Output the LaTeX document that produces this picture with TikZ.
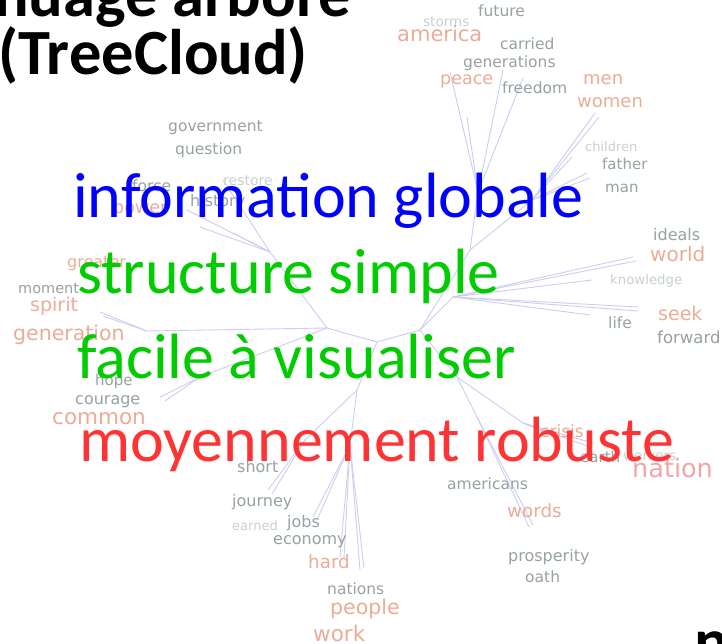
\documentclass[tikz,border=0pt]{standalone}
\usepackage{fontspec}
\setmainfont{Carlito}
\newfontfamily\cloudfont{DejaVu Sans}
\usetikzlibrary{positioning}
\definecolor{wgrey}{RGB}{152,162,162}
\definecolor{wlight}{RGB}{200,208,212}
\definecolor{wsalmon}{RGB}{235,172,152}
\definecolor{wpink}{RGB}{242,165,165}
\definecolor{branchcol}{RGB}{205,205,240}
\definecolor{pblue}{RGB}{0,0,255}
\definecolor{pgreen}{RGB}{0,204,0}
\definecolor{pred}{RGB}{255,51,51}

\begin{document}
\begin{tikzpicture}[x=1pt, y=-1pt,
  gw/.style={text=wgrey, inner sep=0pt, anchor=west, font=\cloudfont\fontsize{#1}{#1}\selectfont},
  gw/.default=15.5,
  lw/.style={text=wlight, inner sep=0pt, anchor=west, font=\cloudfont\fontsize{#1}{#1}\selectfont},
  lw/.default=13.5,
  sw/.style={text=wsalmon, inner sep=0pt, anchor=west, font=\cloudfont\fontsize{#1}{#1}\selectfont},
  sw/.default=19,
  bigline/.style={text=#1, inner sep=0pt, anchor=base west, font=\fontsize{64}{64}\selectfont},
  titletext/.style={inner sep=0pt, anchor=base west, font=\bfseries\fontsize{64.5}{64.5}\selectfont},
  branch/.style={draw=branchcol, line width=0.9pt}
]
  \useasboundingbox (0,0) rectangle (722,644);
  \fill[white] (0,0) rectangle (722,644);

  % inner points of the tree
  \coordinate (c1) at (327,328);
  \coordinate (c2) at (377,342);
  \coordinate (c3) at (420,330);
  \coordinate (c4) at (453,297);
  \coordinate (c5) at (470,250);
  \coordinate (c6) at (478,192);
  \coordinate (c7) at (532,200);
  \coordinate (c8) at (457,377);
  \coordinate (c9) at (523,423);
  \coordinate (c10) at (477,417);
  \coordinate (c11) at (357,390);
  \coordinate (c12) at (350,445);
  \coordinate (c13) at (305,440);
  \coordinate (c14) at (147,331);
  \coordinate (c15) at (200,377);
  \coordinate (c16) at (270,252);

  % leaf ends
  \coordinate (e1) at (450,72);   \coordinate (e2) at (467,117);
  \coordinate (e3) at (503,70);   \coordinate (e4) at (523,78);
  \coordinate (e5) at (595,113);  \coordinate (e6) at (599,117);
  \coordinate (e7) at (572,157);  \coordinate (e8) at (587,173);
  \coordinate (e9) at (590,178);
  \coordinate (e10) at (633,257); \coordinate (e11) at (636,261);
  \coordinate (e12) at (592,280); \coordinate (e13) at (638,307);
  \coordinate (e14) at (638,311); \coordinate (e15) at (590,315);
  \coordinate (e16) at (547,433); \coordinate (e17) at (593,443);
  \coordinate (e18) at (590,447);
  \coordinate (e19) at (529,527); \coordinate (e20) at (533,525);
  \coordinate (e21) at (340,557); \coordinate (e22) at (344,558);
  \coordinate (e23) at (360,570); \coordinate (e24) at (364,568);
  \coordinate (e25) at (313,517); \coordinate (e26) at (317,520);
  \coordinate (e27) at (268,490); \coordinate (e28) at (272,494);
  \coordinate (e29) at (100,312); \coordinate (e30) at (103,316);
  \coordinate (e31) at (160,397); \coordinate (e32) at (165,401);
  \coordinate (e33) at (187,210); \coordinate (e34) at (233,233);
  \coordinate (e35) at (223,180); \coordinate (e36) at (200,227);

  \foreach \a/\b in {c1/c2, c2/c3, c3/c4, c3/c5, c5/c6, c5/c7, c3/c8, c8/c9, c8/c10,
                     c2/c11, c11/c12, c11/c13, c1/c14, c1/c15, c1/c16,
                     c6/e1, c6/e2, c6/e3, c6/e4, c7/e5, c7/e6, c7/e7, c7/e8, c7/e9,
                     c4/e10, c4/e11, c4/e12, c4/e13, c4/e14, c4/e15,
                     c9/e16, c9/e17, c9/e18, c10/e19, c10/e20,
                     c12/e21, c12/e22, c12/e23, c12/e24, c12/e25, c12/e26,
                     c13/e27, c13/e28, c14/e29, c14/e30, c15/e31, c15/e32,
                     c16/e33, c16/e34, c16/e35, c16/e36}
    \draw[branch] (\a) -- (\b);

  % words of the cloud
  \node[gw] (future) at (478,11) {future};
  \node[lw] (storms) at (423,22) {storms};
  \node[sw=21] (america) at (397,34) {america};
  \node[gw] (carried) at (500,44) {carried};
  \node[gw] (generations) at (463,63) {generations};
  \node[sw=17.5] (peace) at (440,81) {peace};
  \node[gw] (freedom) at (502,88) {freedom};
  \node[sw=18] (men) at (583,80) {men};
  \node[sw=18] (women) at (577,103) {women};
  \node[lw=13] (children) at (585,147) {children};
  \node[gw=15] (father) at (602,164) {father};
  \node[gw=15] (man) at (605,188) {man};
  \node[gw] (government) at (168,128) {government};
  \node[gw] (question) at (175,150) {question};
  \node[gw] (force) at (132,186) {force};
  \node[sw=17.5] (power) at (113,210) {power};
  \node[lw=14] (restore) at (223,181) {restore};
  \node[gw=16] (history) at (190,202) {history};
  \node[sw=16] (greater) at (67,264) {greater};
  \node[gw=14.5] (moment) at (18,289) {moment};
  \node[sw] (spirit) at (30,306) {spirit};
  \node[sw=20.5] (generation) at (13,335) {generation};
  \node[gw=15] (hope) at (95,381) {hope};
  \node[gw=16] (courage) at (75,402) {courage};
  \node[sw=21.5] (common) at (52,419) {common};
  \node[gw=16] (ideals) at (653,235) {ideals};
  \node[sw=20] (world) at (650,254) {world};
  \node[lw=13.3] (knowledge) at (610,281) {knowledge};
  \node[sw] (seek) at (658,313) {seek};
  \node[gw] (life) at (608,323) {life};
  \node[gw=16.5] (forward) at (657,337) {forward};
  \node[sw=17] (crisis) at (540,431) {crisis};
  \node[gw=15] (earth) at (580,457) {earth};
  \node[lw=13.5] (workers) at (623,455) {workers};
  \node[sw=25.5, text=wpink] (nation) at (632,468) {nation};
  \node[gw] (americans) at (447,484) {americans};
  \node[sw=18.3] (words) at (507,511) {words};
  \node[gw=16] (prosperity) at (508,557) {prosperity};
  \node[gw] (oath) at (525,577) {oath};
  \node[gw=16] (short) at (237,467) {short};
  \node[gw=16] (journey) at (232,502) {journey};
  \node[lw=13] (earned) at (232,526) {earned};
  \node[gw=16] (jobs) at (287,523) {jobs};
  \node[gw=16] (economy) at (273,542) {economy};
  \node[sw=18.3] (hard) at (308,562) {hard};
  \node[gw] (nations) at (327,589) {nations};
  \node[sw=20.5] (people) at (330,609) {people};
  \node[sw=21.5] (work) at (313,633) {work};

  % slide text
  \node[bigline=pblue] (info) at (73,218) {information globale};
  \node[bigline=pgreen] (struct) at (77,293) {structure simple};
  \node[bigline=pgreen] (visu) at (77,378) {facile à visualiser};
  \node[bigline=pred] (robust) at (79,461) {moyennement robuste};

  \node[titletext] (tline1) at (-6,17) {nuage arboré};
  \node[titletext] (tline2) at (-2,75) {(TreeCloud)};
  \node[titletext] (corner) at (694,663) {n};
\end{tikzpicture}
\end{document}
